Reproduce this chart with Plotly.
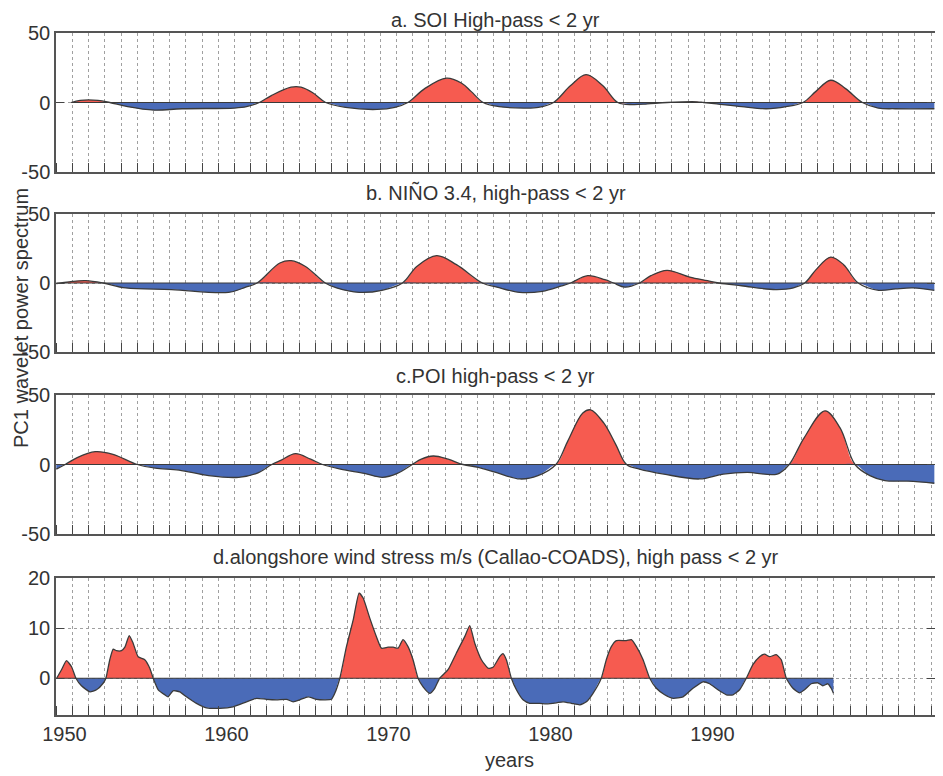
import plotly.graph_objects as go

# ---------------- data ----------------
soi_years = [1950.42, 1950.97, 1952.07, 1952.8, 1953.9, 1955.55, 1957.26, 1960.5, 1961.24, 1962.03,
             1962.77, 1963.99, 1964.6, 1965.33, 1966.13, 1967.35, 1969.3, 1970.4, 1971.2, 1972.24,
             1973.58, 1974.5, 1975.1, 1975.85, 1976.83, 1978.35, 1979.27, 1980.19, 1981.23, 1982.2,
             1983.24, 1984.16, 1985.08, 1985.99, 1987.2, 1989.05, 1990.27, 1991.8, 1993.33, 1994.55,
             1995.59, 1996.39, 1997.3, 1998.22, 1999.26, 2000.24, 2001.28, 2003.7]
soi_vals = [0, 1.5, 1.5, 0, -3, -5.5, -4.5, -4, -3, 0,
            5, 11, 11, 7, 0, -3.5, -5, -3.5, 0, 10,
            17.5, 14, 8, 0, -3, -4, -3.5, 0, 12, 20,
            12, 0, -1.5, -1, 0, 0.5, -1, -3, -4.5, -3,
            0, 8, 16, 10, 0, -4, -4.5, -4.5]

nino_years = [1949.5, 1950.5, 1951.33, 1952.39, 1953.79, 1956.61, 1960.13, 1961.19, 1961.89, 1963.3,
              1964.0, 1964.88, 1966.1, 1966.8, 1968.2, 1969.6, 1970.87, 1971.75, 1972.98, 1974.2,
              1975.8, 1976.7, 1978.1, 1979.5, 1980.7, 1981.25, 1982.3, 1983.36, 1983.9, 1984.6,
              1985.5, 1986.2, 1987.2, 1988.6, 1989.7, 1990.4, 1991.8, 1993.9, 1995.0, 1995.7,
              1996.4, 1997.3, 1998.1, 1999.0, 2000.26, 2001.3, 2002.4, 2003.7]
nino_vals = [-0.5, 1.2, 1.7, 0, -3.6, -4.8, -6.8, -3, 0, 14.5,
             16.2, 12, 0, -3.6, -6.8, -5.3, 0, 12, 19.8, 13.3,
             0, -3, -6.8, -6, -2, 0, 5.3, 2.4, 0, -3,
             0, 5.3, 9.2, 4.3, 1.7, 0, -2, -4.8, -3.6, 0,
             9.7, 18.8, 13.3, 0, -5.3, -4.3, -3.6, -5.3]

poi_years = [1949.5, 1950.05, 1950.79, 1951.9, 1953.0, 1954.5, 1955.6, 1957.07, 1958.9, 1960.76,
             1961.87, 1962.8, 1963.35, 1964.27, 1965.2, 1965.93, 1967.04, 1968.52, 1969.63, 1970.55,
             1971.47, 1972.03, 1972.77, 1973.69, 1974.6, 1975.54, 1976.64, 1978.12, 1979.23, 1980.34,
             1981.07, 1982.0, 1982.48, 1983.29, 1984.03, 1984.7, 1985.5, 1987.0, 1989.2, 1990.68,
             1992.15, 1994.0, 1994.74, 1995.66, 1996.95, 1997.88, 1998.8, 1999.72, 2000.65, 2002.1,
             2003.7]
poi_vals = [-3.3, 0, 5, 9.2, 7.3, 0, -2.6, -4, -8, -9.2,
            -6.4, 0, 3, 7.8, 3.8, 0, -3.3, -6.4, -9.2, -6.4,
            0, 3.8, 6.1, 3.8, 0, -2, -5.7, -10.4, -8, 0,
            16.8, 37, 39.3, 29.9, 14.5, 0, -3.3, -6.9, -10.4, -6.9,
            -5.7, -6.9, 0, 19.2, 38.6, 26.3, 0, -8, -11.6, -12,
            -13.5]

wind_years = [1949.52, 1949.82, 1950.13, 1950.44, 1950.71, 1951.05, 1951.57, 1951.98, 1952.39, 1952.56,
              1952.8, 1953.01, 1953.21, 1953.52, 1953.73, 1954.0, 1954.24, 1954.55, 1954.96, 1955.27,
              1955.48, 1955.79, 1956.2, 1956.4, 1956.71, 1957.12, 1957.53, 1958.15, 1958.77, 1959.59,
              1960.41, 1961.24, 1961.86, 1962.47, 1963.09, 1963.71, 1964.12, 1964.53, 1965.04, 1965.56,
              1966.07, 1966.48, 1966.69, 1967.0, 1967.41, 1967.83, 1968.19, 1968.44, 1968.85, 1969.26,
              1969.57, 1969.98, 1970.29, 1970.6, 1970.9, 1971.21, 1971.52, 1971.83, 1972.14, 1972.55,
              1972.86, 1973.16, 1973.68, 1974.19, 1974.71, 1975.02, 1975.33, 1975.74, 1976.15, 1976.46,
              1976.87, 1977.07, 1977.28, 1977.59, 1977.9, 1978.31, 1978.72, 1979.34, 1979.75, 1980.37,
              1980.78, 1981.3, 1981.81, 1982.22, 1982.63, 1983.14, 1983.45, 1983.76, 1984.07, 1984.69,
              1985.0, 1985.31, 1985.72, 1986.13, 1986.54, 1987.05, 1987.57, 1988.19, 1988.8, 1989.42,
              1989.83, 1990.34, 1990.86, 1991.27, 1991.68, 1992.09, 1992.5, 1992.91, 1993.22, 1993.53,
              1993.94, 1994.25, 1994.56, 1994.97, 1995.38, 1995.69, 1996.1, 1996.51, 1996.82, 1997.13,
              1997.33, 1997.47]
wind_vals = [0, 1.7, 3.5, 2.3, 0, -1.5, -2.7, -2.3, -1, 0,
             3.7, 5.8, 5.5, 5.5, 6.2, 8.5, 7, 4.3, 3.7, 2,
             0, -2.3, -3.3, -3.7, -2.5, -2.7, -3.7, -5, -5.9, -6,
             -5.7, -4.7, -4, -4.2, -4.3, -4.2, -4.7, -4.3, -3.7, -4.2,
             -4.3, -4.2, -3, 0, 6.3, 11.7, 17, 16, 12, 8.3,
             6, 6.2, 6.2, 6, 7.7, 6.3, 3.7, 0, -1.7, -3,
             -2, 0, 1.7, 5, 8.3, 10.5, 7, 3.7, 2, 2.2,
             4.3, 4.9, 3.7, 0, -2.3, -4.3, -5, -5, -5.1, -4.9,
             -4.7, -5, -5.3, -4.7, -3, 0, 3.7, 6.3, 7.5, 7.5,
             7.7, 6.3, 3.7, 0, -2, -3.3, -4, -3.7, -2, -0.7,
             -1.1, -2.3, -3.3, -3.3, -2.3, 0, 2.7, 4.3, 4.8, 4.3,
             4.7, 3.7, 0, -2, -2.9, -2.3, -1.1, -0.9, -1.5, -1.1,
             -2, -3]

titles = ["a. SOI High-pass < 2 yr",
          "b. NIÑO 3.4, high-pass < 2 yr",
          "c.POI high-pass < 2 yr",
          "d.alongshore wind stress m/s (Callao-COADS), high pass < 2 yr"]
x_tick_years = [1950, 1960, 1970, 1980, 1990]
y_ticks_abc = [-50, 0, 50]
y_ticks_d = [0, 10, 20]

# ---------------- styling ----------------
OFF = 8                      # page body margin offset
W, H = 943 - OFF, 776 - OFF
ML = 56 - OFF
MR = W - (935 - OFF)
RED = "#F65B50"
BLUE = "#4A6BB8"
EDGE = "#3a3a3a"
AXIS = "#555555"
GRID = "#a0a0a0"
TXT = "#333333"
FONT = "Liberation Sans, Arial, Helvetica, sans-serif"
FS = 20


def py(px):
    return 1 - (px - OFF) / H


def pxx(px):
    return (px - 56) / (935 - 56)


panel_px = [(33, 172), (214, 352), (395, 534), (578, 715)]
title_px = [None, 193, 376, 557]
series = [(soi_years, soi_vals), (nino_years, nino_vals), (poi_years, poi_vals), (wind_years, wind_vals)]
yranges = [[-50, 50], [-50, 50], [-50, 50], [-7.33, 20]]
yticks = [y_ticks_abc, y_ticks_abc, y_ticks_abc, y_ticks_d]
smooth = [1.0, 1.0, 1.0, 0.5]


def split(xs, ys):
    X, P, N = [], [], []
    for i in range(len(xs)):
        if i > 0 and ys[i - 1] * ys[i] < 0:
            t = ys[i - 1] / (ys[i - 1] - ys[i])
            xc = xs[i - 1] + t * (xs[i] - xs[i - 1])
            X.append(xc); P.append(0); N.append(0)
        X.append(xs[i]); P.append(max(ys[i], 0)); N.append(min(ys[i], 0))
    return X, P, N


fig = go.Figure()
layout = {}
for k in range(4):
    sfx = "" if k == 0 else str(k + 1)
    xa, ya = "x" + sfx, "y" + sfx
    xs, ys = series[k]
    X, P, N = split(xs, ys)
    sm = smooth[k]
    fig.add_trace(go.Scatter(x=X, y=P, xaxis=xa, yaxis=ya, mode="lines", fill="tozeroy",
                             fillcolor=RED, line=dict(width=0, color=RED, shape="spline", smoothing=sm),
                             hoverinfo="skip"))
    fig.add_trace(go.Scatter(x=X, y=N, xaxis=xa, yaxis=ya, mode="lines", fill="tozeroy",
                             fillcolor=BLUE, line=dict(width=0, color=BLUE, shape="spline", smoothing=sm),
                             hoverinfo="skip"))
    fig.add_trace(go.Scatter(x=[xs[0], xs[-1]], y=[0, 0], xaxis=xa, yaxis=ya, mode="lines",
                             line=dict(width=1, color=EDGE), hoverinfo="skip"))
    fig.add_trace(go.Scatter(x=X, y=[p + n for p, n in zip(P, N)], xaxis=xa, yaxis=ya, mode="lines",
                             line=dict(width=1.3, color=EDGE, shape="spline", smoothing=sm),
                             hoverinfo="skip"))

    top, bot = panel_px[k]
    layout["xaxis" + sfx] = dict(
        domain=[0, 1], anchor=ya, range=[1949.48, 2003.74],
        tickvals=x_tick_years, ticktext=[str(v) for v in x_tick_years],
        ticks="", showticklabels=(k == 3), showgrid=False, zeroline=False,
        showline=True, linecolor=AXIS, linewidth=1.5, mirror=True,
        tickfont=dict(family=FONT, size=FS, color=TXT), automargin=False,
        minor=dict(tick0=1949.5, dtick=1, ticks="inside", ticklen=9, tickcolor="#444444",
                   tickwidth=1.2, showgrid=True, gridcolor=GRID, griddash="dot", gridwidth=1),
    )
    layout["yaxis" + sfx] = dict(
        domain=[py(bot), py(top)], anchor=xa, range=yranges[k],
        tickvals=yticks[k], ticktext=[str(v) for v in yticks[k]],
        ticks="inside", ticklen=8, tickcolor="#444444", tickwidth=1.2,
        showgrid=True, gridcolor=GRID, griddash="dot", gridwidth=1, zeroline=False,
        showline=True, linecolor=AXIS, linewidth=1.5, mirror="ticks",
        tickfont=dict(family=FONT, size=FS, color=TXT), automargin=False,
    )

annotations = []
for k in range(4):
    if k == 0:
        annotations.append(dict(text=titles[k], x=0.5, y=1, xref="paper", yref="paper",
                                xanchor="center", yanchor="top", borderpad=0, showarrow=False,
                                font=dict(family=FONT, size=FS, color=TXT)))
    else:
        annotations.append(dict(text=titles[k], x=0.5, y=py(title_px[k]), xref="paper", yref="paper",
                                xanchor="center", yanchor="middle", showarrow=False,
                                font=dict(family=FONT, size=FS, color=TXT)))
annotations.append(dict(text="PC1 wavelet power spectrum", x=pxx(21), y=py(318),
                        xref="paper", yref="paper", xanchor="center", yanchor="middle",
                        textangle=-90, showarrow=False, font=dict(family=FONT, size=FS, color=TXT)))
annotations.append(dict(text="years", x=pxx(510), y=py(760), xref="paper", yref="paper",
                        xanchor="center", yanchor="middle", showarrow=False,
                        font=dict(family=FONT, size=FS, color=TXT)))

fig.update_layout(
    width=W, height=H, margin=dict(l=ML, r=MR, t=0, b=0),
    paper_bgcolor="white", plot_bgcolor="white", showlegend=False,
    annotations=annotations, **layout,
)

fig.write_html("out.html")
